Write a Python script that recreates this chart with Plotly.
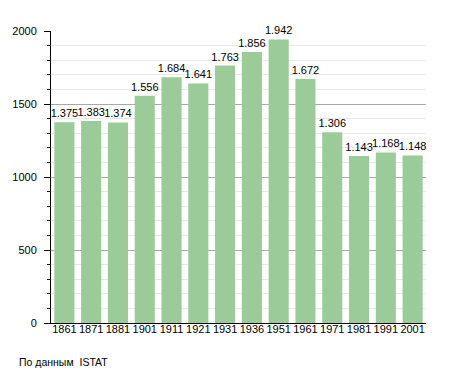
import plotly.graph_objects as go

years = ["1861", "1871", "1881", "1901", "1911", "1921", "1931", "1936", "1951", "1961", "1971", "1981", "1991", "2001"]
population = [1375, 1383, 1374, 1556, 1684, 1641, 1763, 1856, 1942, 1672, 1306, 1143, 1168, 1148]

# page body has an 8px margin; compensate so plot area lands where the reference has it
W, H = 447, 365
L, T, R, B = 43, 23, 29, 50
plot_w = W - L - R
plot_h = H - T - B

fig = go.Figure(go.Bar(
    x=years, y=population,
    marker=dict(color="#9acb98", line=dict(width=0)),
    texttemplate="%{y:,}", textposition="outside", cliponaxis=False,
    constraintext="none",
    textfont=dict(size=11, color="#000000", family="Liberation Sans, Arial, sans-serif"),
))

fig.update_layout(
    width=W, height=H,
    margin=dict(l=L, r=R, t=T, b=B, autoexpand=False),
    paper_bgcolor="white", plot_bgcolor="white",
    separators=",.",
    bargap=0.25,
    showlegend=False,
    font=dict(family="Liberation Sans, Arial, sans-serif", size=11, color="#000000"),
    xaxis=dict(type="category", showline=True, linecolor="#000000", linewidth=1,
               ticks="", showgrid=False, tickfont=dict(size=11), ticklabelstandoff=-4),
    yaxis=dict(range=[0, 2000], dtick=500, showline=True, linecolor="#000000", linewidth=1,
               ticks="outside", ticklen=6, tickcolor="#000000",
               showgrid=True, gridcolor="#a8a8a8", gridwidth=1, zeroline=False,
               tickfont=dict(size=11), ticklabelstandoff=5,
               minor=dict(dtick=100, showgrid=True, gridcolor="#e8e8e8",
                          ticks="outside", ticklen=3, tickcolor="#000000")),
    annotations=[dict(text="По данным  ISTAT", xref="paper", yref="paper",
                      x=(9 - L) / plot_w, y=-(354 - (H - B)) / plot_h,
                      xanchor="left", yanchor="middle",
                      showarrow=False, font=dict(size=10.5))],
)

fig.write_html("out.html")
